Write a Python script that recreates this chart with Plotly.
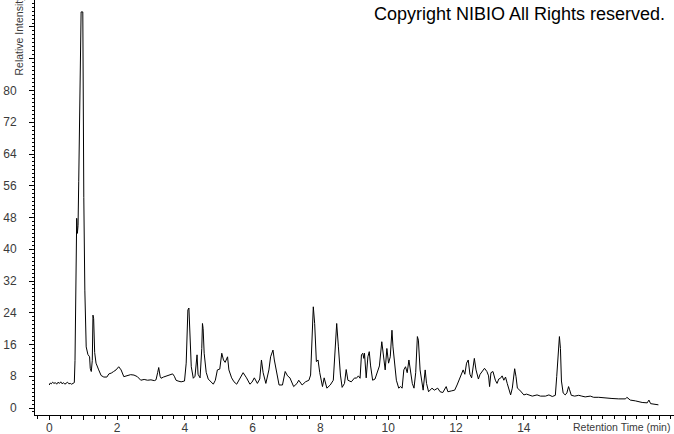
import plotly.graph_objects as go

# Retention time (min)
time_min = [
    0.00, 0.03, 0.06, 0.10, 0.14, 0.18, 0.22, 0.26, 0.30, 0.34, 0.38, 0.42, 0.46, 0.50, 0.54, 0.58,
    0.62, 0.66, 0.70, 0.74, 0.76, 0.77, 0.79, 0.81, 0.83, 0.85, 0.87, 0.90, 0.94, 0.99, 1.00, 1.02,
    1.05, 1.07, 1.09, 1.14, 1.19, 1.21, 1.24, 1.27, 1.29, 1.31, 1.34, 1.38, 1.46, 1.53, 1.61, 1.70,
    1.76, 1.83, 1.90, 1.97, 2.05, 2.12, 2.20, 2.30, 2.40, 2.50, 2.60, 2.70, 2.80, 2.90, 3.00, 3.10,
    3.15, 3.20, 3.23, 3.27, 3.30, 3.37, 3.44, 3.54, 3.64, 3.69, 3.74, 3.80, 3.89, 3.99, 4.04, 4.09,
    4.12, 4.15, 4.19, 4.25, 4.30, 4.36, 4.39, 4.45, 4.50, 4.52, 4.54, 4.57, 4.63, 4.69, 4.77, 4.84,
    4.90, 4.96, 5.03, 5.09, 5.14, 5.19, 5.26, 5.30, 5.38, 5.45, 5.53, 5.62, 5.72, 5.82, 5.92, 5.98,
    6.05, 6.14, 6.21, 6.26, 6.31, 6.39, 6.48, 6.53, 6.60, 6.64, 6.70, 6.78, 6.88, 6.96, 7.03, 7.10,
    7.21, 7.31, 7.36, 7.46, 7.56, 7.66, 7.71, 7.76, 7.79, 7.83, 7.88, 7.93, 7.98, 8.06, 8.11, 8.19,
    8.29, 8.38, 8.44, 8.48, 8.53, 8.59, 8.64, 8.71, 8.76, 8.81, 8.91, 9.01, 9.06, 9.12, 9.17, 9.21,
    9.25, 9.28, 9.30, 9.35, 9.40, 9.44, 9.48, 9.54, 9.61, 9.68, 9.74, 9.81, 9.86, 9.91, 9.96, 10.01,
    10.06, 10.11, 10.14, 10.18, 10.24, 10.31, 10.36, 10.41, 10.46, 10.51, 10.56, 10.61, 10.66, 10.71, 10.76, 10.81,
    10.86, 10.89, 10.94, 10.99, 11.03, 11.09, 11.13, 11.19, 11.29, 11.36, 11.46, 11.53, 11.61, 11.71, 11.76, 11.86,
    11.96, 12.03, 12.11, 12.16, 12.21, 12.26, 12.31, 12.36, 12.41, 12.46, 12.51, 12.54, 12.59, 12.66, 12.71, 12.79,
    12.84, 12.91, 12.96, 12.99, 13.03, 13.09, 13.16, 13.21, 13.26, 13.31, 13.36, 13.41, 13.46, 13.51, 13.56, 13.61,
    13.66, 13.69, 13.73, 13.77, 13.81, 13.88, 13.96, 14.00, 14.08, 14.15, 14.25, 14.39, 14.49, 14.64, 14.74, 14.84,
    14.93, 14.97, 15.01, 15.05, 15.08, 15.11, 15.16, 15.22, 15.27, 15.32, 15.35, 15.40, 15.50, 15.62, 15.71, 15.81,
    15.96, 16.06, 16.21, 16.40, 16.60, 16.80, 17.00, 17.04, 17.14, 17.29, 17.49, 17.64, 17.69, 17.74, 17.84, 17.97,
]

# Relative intensity (%)
intensity = [
    5.8, 6.3, 6.1, 6.5, 6.2, 6.4, 6.0, 6.5, 6.2, 6.6, 6.1, 6.4, 6.0, 6.3, 6.5, 6.1,
    6.2, 6.0, 6.3, 6.4, 12.0, 24.0, 40.0, 47.8, 44.0, 46.0, 57.0, 77.0, 99.8, 99.8, 77.6, 53.0,
    29.7, 20.0, 15.4, 13.5, 12.9, 10.0, 9.2, 12.0, 23.4, 22.5, 14.0, 11.3, 9.6, 8.2, 7.8, 7.8,
    8.6, 8.8, 9.2, 9.6, 10.4, 9.6, 7.9, 8.1, 8.4, 8.3, 7.9, 7.0, 7.2, 7.0, 7.1, 6.9,
    7.1, 9.0, 10.2, 8.0, 7.5, 7.8, 8.0, 8.3, 8.6, 8.0, 7.0, 6.8, 6.6, 6.8, 11.3, 24.7,
    25.2, 18.9, 10.4, 7.5, 8.0, 13.4, 8.5, 7.6, 15.0, 21.3, 20.0, 13.8, 9.0, 7.3, 6.5, 6.0,
    7.0, 9.6, 9.8, 13.8, 12.1, 11.5, 12.9, 9.6, 7.6, 6.6, 6.0, 7.3, 8.9, 7.6, 6.0, 6.5,
    7.6, 6.2, 7.3, 12.1, 8.9, 6.2, 9.6, 12.9, 14.6, 12.1, 8.9, 5.8, 5.8, 9.2, 8.1, 7.6,
    5.4, 6.2, 7.0, 5.8, 6.6, 7.0, 8.3, 19.6, 25.5, 21.3, 11.7, 12.1, 8.9, 5.4, 7.6, 5.0,
    5.8, 7.0, 18.0, 21.3, 15.4, 8.3, 5.2, 6.2, 9.7, 7.0, 6.6, 7.6, 7.5, 8.1, 7.5, 13.4,
    13.8, 12.5, 13.8, 7.6, 12.9, 14.2, 10.6, 7.0, 7.3, 8.9, 10.6, 16.7, 12.9, 9.6, 15.0, 11.3,
    12.9, 19.6, 15.4, 12.1, 7.0, 5.0, 5.4, 5.0, 9.6, 10.4, 8.9, 12.1, 9.2, 6.2, 5.0, 8.9,
    18.0, 17.1, 9.6, 6.2, 4.5, 9.6, 6.2, 4.1, 5.0, 4.5, 5.0, 4.1, 3.9, 5.4, 4.1, 4.3,
    4.5, 5.8, 7.6, 8.9, 9.6, 8.5, 11.3, 12.1, 8.5, 7.6, 10.6, 12.5, 9.6, 7.3, 8.5, 9.6,
    10.0, 9.2, 8.1, 5.4, 8.9, 9.2, 7.0, 6.2, 7.3, 7.5, 8.1, 7.0, 7.8, 6.2, 5.0, 3.3,
    5.0, 7.3, 9.9, 7.9, 5.0, 4.5, 3.5, 3.3, 3.5, 3.3, 3.0, 3.3, 3.0, 3.0, 3.3, 2.9,
    3.2, 7.9, 14.6, 18.0, 15.0, 6.8, 3.8, 3.3, 3.8, 5.4, 4.6, 3.2, 3.0, 3.2, 3.0, 2.8,
    3.0, 2.7, 2.7, 2.5, 2.4, 2.3, 2.3, 2.7, 2.0, 1.8, 1.4, 1.3, 2.0, 1.1, 0.9, 0.8,
]

x_tick_vals = list(range(0, 19))
x_tick_text = [str(v) if (v % 2 == 0 and v <= 14) else "" for v in x_tick_vals]
y_tick_vals = list(range(0, 104, 8))
y_tick_text = [str(v) if v <= 80 else "" for v in y_tick_vals]

FONT = "Liberation Sans, Arial, sans-serif"
TXT = "#3a3a3a"

fig = go.Figure()
fig.add_trace(go.Scatter(
    x=time_min, y=intensity, mode="lines",
    line=dict(color="black", width=1), hoverinfo="skip", showlegend=False,
))

fig.update_layout(
    width=674, height=434,
    margin=dict(l=35, r=0, t=0, b=19, autoexpand=False),
    paper_bgcolor="white", plot_bgcolor="white",
    font=dict(family=FONT, size=12, color=TXT),
    showlegend=False,
)

fig.update_xaxes(
    range=[-0.42, 18.43], showgrid=False, zeroline=False, automargin=False,
    showline=True, linecolor="black", linewidth=1,
    tickmode="array", tickvals=x_tick_vals, ticktext=x_tick_text,
    ticks="outside", ticklen=4, tickcolor="black", tickwidth=1,
    ticklabelstandoff=-2,
    minor=dict(dtick=1/3, tick0=0, ticks="outside", ticklen=3, tickcolor="black", showgrid=False),
    tickfont=dict(family=FONT, size=12, color=TXT),
)
fig.update_yaxes(
    range=[-1.76, 102.8], showgrid=False, zeroline=False, automargin=False,
    showline=True, linecolor="black", linewidth=1,
    tickmode="array", tickvals=y_tick_vals, ticktext=y_tick_text,
    ticks="outside", ticklen=5, tickcolor="black", tickwidth=1,
    ticklabelstandoff=10,
    minor=dict(dtick=1, tick0=0, ticks="outside", ticklen=2, tickcolor="black", showgrid=False),
    tickfont=dict(family=FONT, size=12, color=TXT),
)

fig.add_annotation(
    text="Retention Time (min)", xref="paper", yref="paper",
    x=(672 - 35) / 639, y=0.0, xanchor="right", yanchor="top", yshift=-4,
    showarrow=False, font=dict(family=FONT, size=10.5, color=TXT),
)
fig.add_annotation(
    text="Relative Intensity", xref="paper", yref="paper",
    x=(18 - 35) / 639, y=(415 - 78) / 415, xanchor="center", yanchor="bottom",
    textangle=-90, showarrow=False, font=dict(family=FONT, size=10.5, color=TXT),
)
fig.add_annotation(
    text="Copyright NIBIO All Rights reserved.", xref="paper", yref="paper",
    x=(667 - 35) / 639, y=(415 - 14) / 415, xanchor="right", yanchor="middle",
    showarrow=False, font=dict(family=FONT, size=18, color="black"),
)

fig.write_html(
    "out.html",
    config={"displayModeBar": False},
    post_script="document.body.style.margin='0';document.body.style.overflow='hidden';",
)
